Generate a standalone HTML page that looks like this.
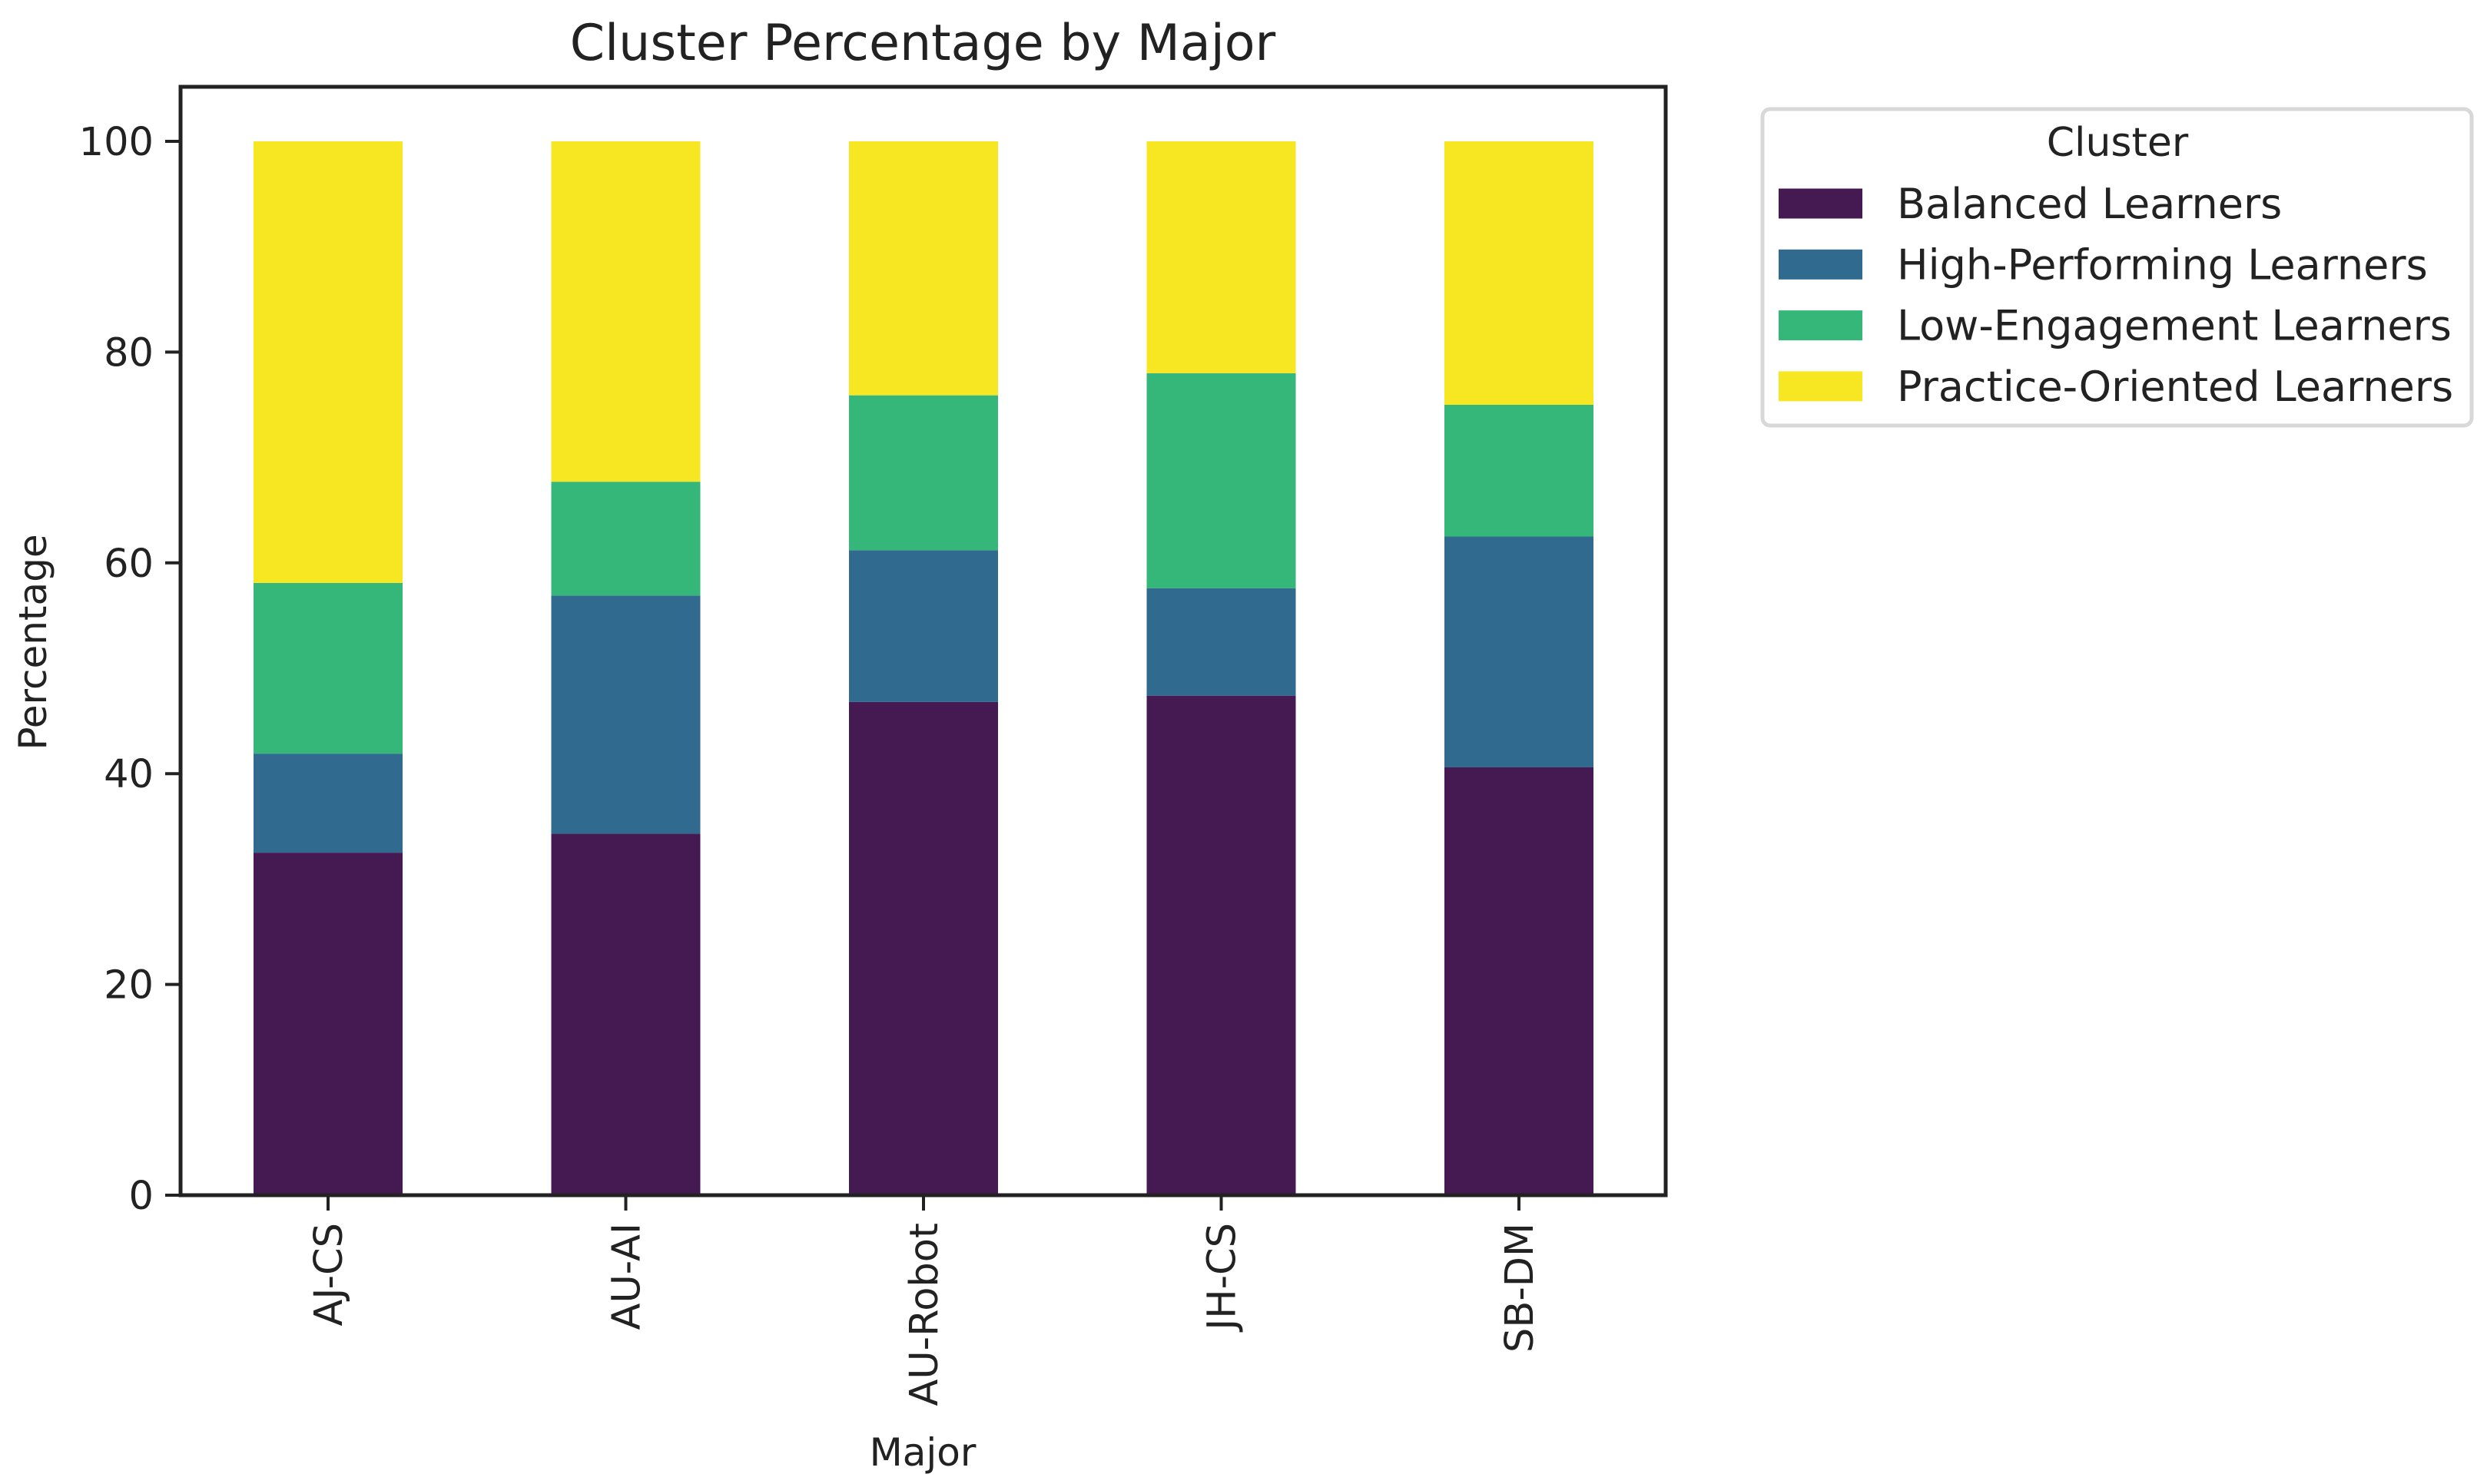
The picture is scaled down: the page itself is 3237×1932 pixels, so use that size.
<!DOCTYPE html>
<html><head><meta charset="utf-8"><style>
html,body{margin:0;padding:0;background:#fff;}
svg{display:block;font-family:"DejaVu Sans","Liberation Sans",sans-serif;}
</style></head><body>
<svg id="chart" width="3237" height="1932" viewBox="0 0 3237 1932" xmlns="http://www.w3.org/2000/svg">
<rect width="3237" height="1932" fill="#fff"/>
<text x="1201" y="78" font-size="65" text-anchor="middle" fill="#222">Cluster Percentage by Major</text>
<g id="bars"></g>
<g id="yticks"></g>
<g id="xticks"></g>
<rect x="235" y="113" width="1933" height="1443" fill="none" stroke="#222" stroke-width="5"/>
<text transform="translate(60,836) rotate(-90)" font-size="50" text-anchor="middle" fill="#222">Percentage</text>
<text x="1201" y="1908" font-size="50" text-anchor="middle" fill="#222">Major</text>
<g>
<rect x="2294" y="142" width="923" height="412" rx="10" fill="#fff" stroke="#d8d8d8" stroke-width="5"/>
<text x="2756" y="203" font-size="52" text-anchor="middle" fill="#222">Cluster</text>
<g id="legend-items"></g>
</g>
</svg>
<script>
const categories = ["AJ-CS","AU-AI","AU-Robot","JH-CS","SB-DM"];
const seriesNames = ["Balanced Learners","High-Performing Learners","Low-Engagement Learners","Practice-Oriented Learners"];
const balanced = [32.5, 34.3, 46.8, 47.4, 40.6];
const highPerforming = [9.4, 22.6, 14.4, 10.2, 21.9];
const lowEngagement = [16.2, 10.8, 14.7, 20.4, 12.5];
const practiceOriented = [41.9, 32.3, 24.1, 22.0, 25.0];
const yTicks = [0, 20, 40, 60, 80, 100];
const colors = ["#451a52","#306a8e","#35b779","#f7e723"];
const series = [balanced, highPerforming, lowEngagement, practiceOriented];
const NS = "http://www.w3.org/2000/svg";
const yScale = v => 1556 - v * 13.72;
const xScale = i => 427 + i * 387.5;
const barW = 194;
const bars = document.getElementById('bars');
categories.forEach((c, i) => {
  let base = 0;
  series.forEach((s, k) => {
    const v = s[i];
    const r = document.createElementNS(NS, 'rect');
    r.setAttribute('x', xScale(i) - barW / 2);
    r.setAttribute('y', yScale(base + v));
    r.setAttribute('width', barW);
    r.setAttribute('height', yScale(base) - yScale(base + v));
    r.setAttribute('fill', colors[k]);
    
    
    bars.appendChild(r);
    base += v;
  });
});
const yt = document.getElementById('yticks');
yTicks.forEach(t => {
  const y = yScale(t);
  const l = document.createElementNS(NS, 'line');
  l.setAttribute('x1', 215); l.setAttribute('x2', 235);
  l.setAttribute('y1', y); l.setAttribute('y2', y);
  l.setAttribute('stroke', '#222'); l.setAttribute('stroke-width', 4);
  
  
  yt.appendChild(l);
  const tx = document.createElementNS(NS, 'text');
  tx.setAttribute('x', 200); tx.setAttribute('y', y + 18);
  tx.setAttribute('font-size', 51); tx.setAttribute('text-anchor', 'end'); tx.setAttribute('fill', '#222');
  tx.textContent = t;
  
  
  yt.appendChild(tx);
});
const xt = document.getElementById('xticks');
categories.forEach((c, i) => {
  const x = xScale(i);
  const l = document.createElementNS(NS, 'line');
  l.setAttribute('x1', x); l.setAttribute('x2', x);
  l.setAttribute('y1', 1556); l.setAttribute('y2', 1576);
  l.setAttribute('stroke', '#222'); l.setAttribute('stroke-width', 4);
  
  
  xt.appendChild(l);
  const tx = document.createElementNS(NS, 'text');
  tx.setAttribute('transform', 'translate(' + (x + 18) + ',1592) rotate(-90)');
  tx.setAttribute('font-size', 51); tx.setAttribute('text-anchor', 'end'); tx.setAttribute('fill', '#222');
  tx.textContent = c;
  
  
  xt.appendChild(tx);
});
const lg = document.getElementById('legend-items');
seriesNames.forEach((n, k) => {
  const cy = 265 + k * 79.3;
  const r = document.createElementNS(NS, 'rect');
  r.setAttribute('x', 2315); r.setAttribute('y', cy - 19.5);
  r.setAttribute('width', 109); r.setAttribute('height', 39);
  r.setAttribute('fill', colors[k]);
  
  
  lg.appendChild(r);
  const tx = document.createElementNS(NS, 'text');
  tx.setAttribute('x', 2469); tx.setAttribute('y', cy + 19);
  tx.setAttribute('font-size', 54); tx.setAttribute('fill', '#222');
  tx.textContent = n;
  
  
  lg.appendChild(tx);
});
</script>
</body></html>
